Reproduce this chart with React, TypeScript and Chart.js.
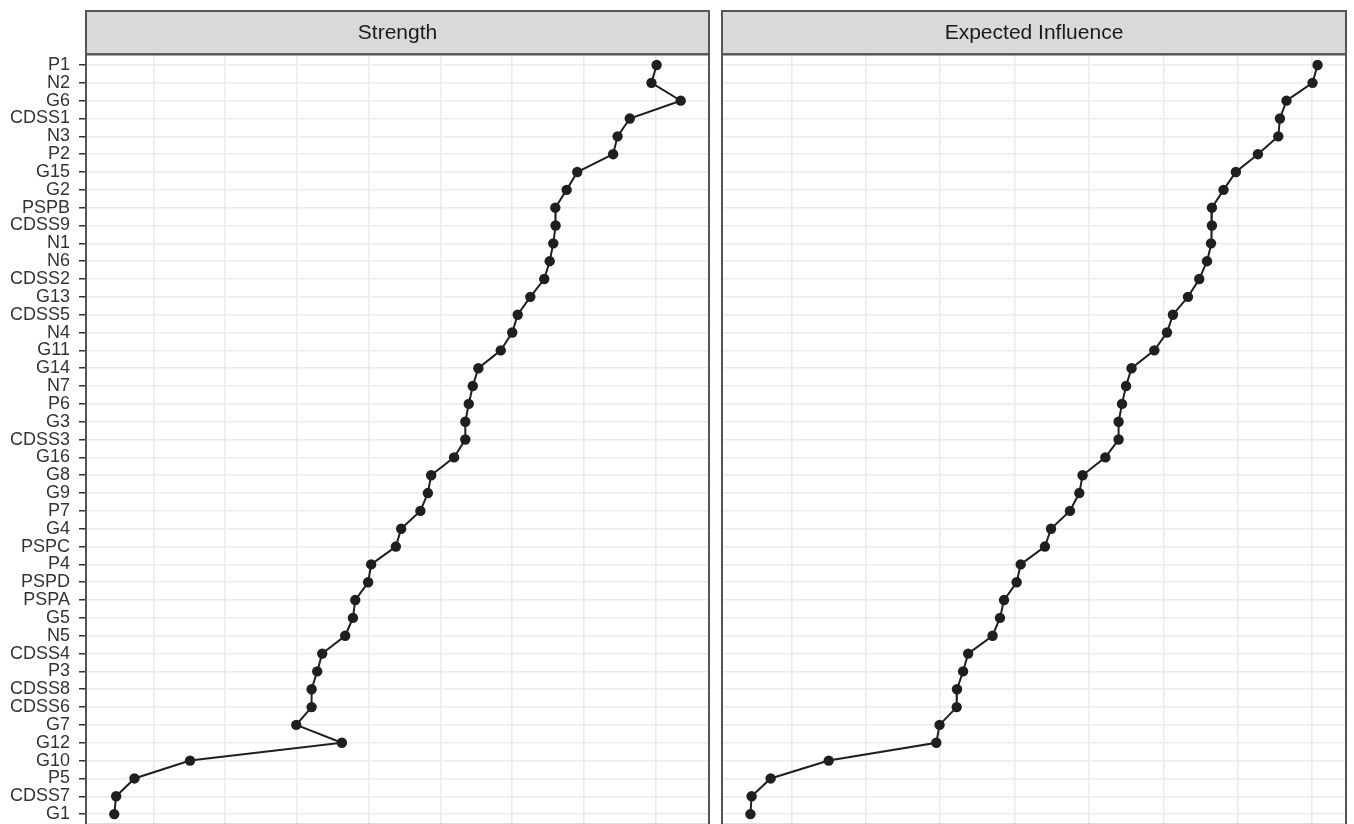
import React, { useEffect, useRef } from "react";
import { Chart, registerables } from "chart.js";

Chart.register(...registerables);

// ---- data ----
const nodes = [
  "P1", "N2", "G6", "CDSS1", "N3", "P2", "G15", "G2", "PSPB", "CDSS9",
  "N1", "N6", "CDSS2", "G13", "CDSS5", "N4", "G11", "G14", "N7", "P6",
  "G3", "CDSS3", "G16", "G8", "G9", "P7", "G4", "PSPC", "P4", "PSPD",
  "PSPA", "G5", "N5", "CDSS4", "P3", "CDSS8", "CDSS6", "G7", "G12", "G10",
  "P5", "CDSS7", "G1",
];

const strength = [
  1.506, 1.470, 1.674, 1.319, 1.234, 1.203, 0.953, 0.879, 0.800, 0.802,
  0.786, 0.761, 0.723, 0.626, 0.538, 0.500, 0.420, 0.264, 0.225, 0.197,
  0.173, 0.173, 0.095, -0.065, -0.088, -0.140, -0.274, -0.311, -0.483, -0.504,
  -0.594, -0.610, -0.664, -0.824, -0.859, -0.898, -0.898, -1.005, -0.687, -1.745,
  -2.132, -2.260, -2.273,
];

const expectedInfluence = [
  1.536, 1.502, 1.327, 1.283, 1.272, 1.135, 0.987, 0.904, 0.826, 0.826,
  0.820, 0.793, 0.741, 0.665, 0.564, 0.524, 0.439, 0.286, 0.249, 0.222,
  0.199, 0.199, 0.110, -0.043, -0.065, -0.128, -0.255, -0.296, -0.459, -0.486,
  -0.571, -0.598, -0.648, -0.812, -0.846, -0.887, -0.889, -1.004, -1.026, -1.749,
  -2.139, -2.267, -2.275,
];

const panelTitles = ["Strength", "Expected Influence"];
const xGridTicks = [-2, -1.5, -1, -0.5, 0, 0.5, 1, 1.5];
const strengthLimits = [-2.470, 1.871];
const influenceLimits = [-2.466, 1.727];

const FONT = '"Liberation Sans", Arial, Helvetica, sans-serif';

const stripPlugin = {
  id: "strip",
  afterDraw(chart: any, _args: any, opts: any) {
    const { ctx, chartArea: a } = chart;
    const top = opts.top;
    ctx.save();
    ctx.fillStyle = "#D9D9D9";
    ctx.fillRect(a.left, top, a.right - a.left, a.top - top);
    ctx.strokeStyle = "#555555";
    ctx.lineWidth = 2;
    ctx.strokeRect(a.left, top, a.right - a.left, a.top - top);
    ctx.strokeRect(a.left, a.top, a.right - a.left, a.bottom - a.top);
    ctx.fillStyle = "#1A1A1A";
    ctx.font = `21px ${FONT}`;
    ctx.textAlign = "center";
    ctx.textBaseline = "middle";
    ctx.fillText(opts.text, (a.left + a.right) / 2, (top + a.top) / 2 + 1);
    ctx.restore();
  },
};

function buildConfig(values: number[], limits: number[], title: string, showLabels: boolean, axisWidth: number, padRight: number) {
  return {
    type: "scatter" as const,
    data: {
      datasets: [
        {
          data: values.map((v, i) => ({ x: v, y: i })),
          showLine: true,
          borderColor: "#1F1F1F",
          borderWidth: 2,
          backgroundColor: "#1F1F1F",
          pointBackgroundColor: "#1F1F1F",
          pointBorderColor: "#1F1F1F",
          pointBorderWidth: 0,
          pointRadius: 5.2,
          pointHoverRadius: 5.2,
        },
      ],
    },
    options: {
      responsive: false,
      animation: false as const,
      devicePixelRatio: 1,
      layout: { padding: { top: 54.3, right: padRight, bottom: 3.3, left: 0 } },
      plugins: {
        legend: { display: false },
        title: { display: false },
        tooltip: { enabled: false },
        strip: { text: title, top: 11 },
      },
      scales: {
        x: {
          type: "linear" as const,
          position: "bottom" as const,
          min: limits[0],
          max: limits[1],
          afterBuildTicks: (scale: any) => {
            scale.ticks = xGridTicks.map((v) => ({ value: v }));
          },
          afterFit: (scale: any) => {
            scale.height = 0;
            scale.paddingLeft = 0;
            scale.paddingRight = 0;
          },
          ticks: { display: false },
          border: { display: false },
          grid: { color: "#EBEBEB", lineWidth: 1.5, drawTicks: false },
        },
        y: {
          type: "linear" as const,
          position: "left" as const,
          reverse: true,
          min: -0.6,
          max: nodes.length - 1 + 0.6,
          afterBuildTicks: (scale: any) => {
            scale.ticks = nodes.map((_, i) => ({ value: i }));
          },
          afterFit: (scale: any) => {
            scale.width = axisWidth;
            scale.paddingTop = 0;
            scale.paddingBottom = 0;
          },
          ticks: {
            display: showLabels,
            autoSkip: false,
            padding: 9,
            color: "#333333",
            font: { family: FONT, size: 18 },
            callback: (v: any) => nodes[Math.round(Number(v))],
          },
          border: { display: false },
          grid: {
            color: "#EBEBEB",
            lineWidth: 1.5,
            drawTicks: showLabels,
            tickLength: 7,
            tickColor: "#333333",
            tickWidth: 1.5,
          },
        },
      },
    },
    plugins: [stripPlugin],
  };
}

export default function App() {
  const leftRef = useRef<HTMLCanvasElement>(null);
  const rightRef = useRef<HTMLCanvasElement>(null);

  useEffect(() => {
    const left = new Chart(
      leftRef.current as HTMLCanvasElement,
      buildConfig(strength, strengthLimits, panelTitles[0], true, 86, 7) as any
    );
    const right = new Chart(
      rightRef.current as HTMLCanvasElement,
      buildConfig(expectedInfluence, influenceLimits, panelTitles[1], false, 6, 8) as any
    );
    return () => {
      left.destroy();
      right.destroy();
    };
  }, []);

  return (
    <div
      style={{
        position: "fixed",
        left: 0,
        top: 0,
        width: 1354,
        height: 824,
        overflow: "hidden",
        background: "#FFFFFF",
      }}
    >
      <canvas
        ref={leftRef}
        width={716}
        height={830}
        style={{ position: "absolute", left: 0, top: 0, width: 716, height: 830, display: "block" }}
      />
      <canvas
        ref={rightRef}
        width={638}
        height={830}
        style={{ position: "absolute", left: 716, top: 0, width: 638, height: 830, display: "block" }}
      />
    </div>
  );
}
